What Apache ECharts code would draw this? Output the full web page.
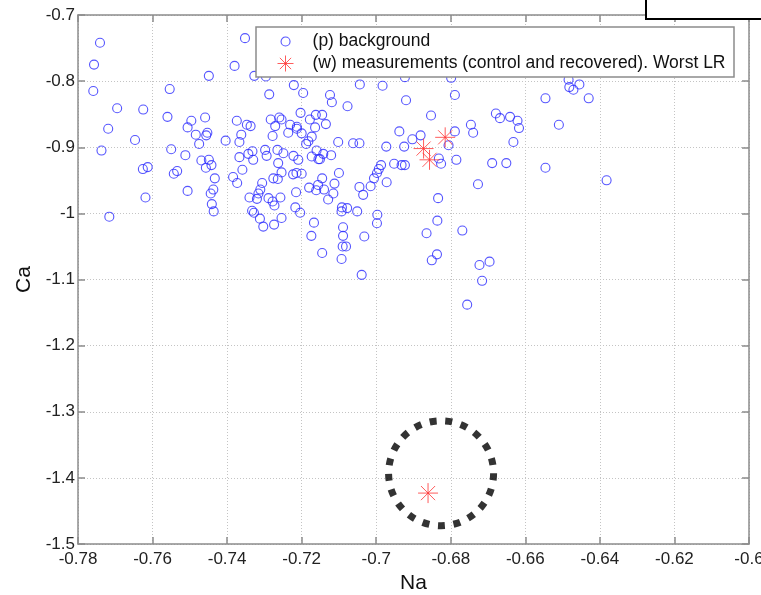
<!DOCTYPE html>
<html>
<head>
<meta charset="utf-8">
<script src="https://cdn.jsdelivr.net/npm/echarts@6/dist/echarts.min.js"></script>
<style>html,body{margin:0;padding:0;background:#fff;}#c{width:761px;height:595px;}</style>
</head>
<body>
<div id="c"></div>
<script>
// ---- data ----
var xTicks = ['-0.78','-0.76','-0.74','-0.72','-0.7','-0.68','-0.66','-0.64','-0.62','-0.6'];
var yTicks = ['-1.5','-1.4','-1.3','-1.2','-1.1','-1','-0.9','-0.8','-0.7'];
var xName = 'Na';
var yName = 'Ca';
var bgName = '(p) background';
var measName = '(w) measurements (control and recovered). Worst LR';

var bgNa = [-0.7741,-0.7757,-0.7759,-0.7737,-0.7716,-0.7719,-0.7695,-0.7647,-0.7625,-0.7626,
-0.7613,-0.7619,-0.7554,-0.7560,-0.7550,-0.7543,-0.7534,-0.7512,-0.7506,-0.7506,
-0.7496,-0.7484,-0.7475,-0.7469,-0.7459,-0.7456,-0.7453,-0.7449,-0.7449,-0.7442,
-0.7457,-0.7433,-0.7437,-0.7444,-0.7441,-0.7436,
-0.7404,-0.7384,-0.7373,-0.7380,-0.7374,-0.7362,-0.7367,-0.7367,-0.7359,-0.7352,
-0.7347,-0.7337,-0.7343,-0.7332,-0.7330,-0.7340,-0.7333,-0.7328,-0.7320,-0.7312,
-0.7327,-0.7303,-0.7316,-0.7311,-0.7306,-0.7298,-0.7296,-0.7287,-0.7294,-0.7289,
-0.7283,-0.7278,-0.7278,-0.7273,-0.7257,-0.7274,-0.7271,-0.7265,-0.7263,-0.7260,
-0.7254,-0.7276,-0.7264,-0.7254,-0.7254,-0.7249,-0.7236,-0.7231,-0.7222,-0.7223,
-0.7214,-0.7221,-0.7215,-0.7217,-0.7213,-0.7213,-0.7209,-0.7204,-0.7200,-0.7200,
-0.7196,-0.7203,-0.7188,-0.7182,-0.7180,-0.7178,-0.7173,-0.7173,-0.7174,-0.7167,
-0.7164,-0.7162,-0.7160,-0.7161,-0.7156,-0.7155,-0.7151,-0.7145,-0.7145,-0.7145,
-0.7142,-0.7140,-0.7135,-0.7129,-0.7124,-0.7119,-0.7121,-0.7115,-0.7112,-0.7102,
-0.7100,-0.7093,-0.7089,-0.7089,-0.7093,-0.7090,-0.7081,-0.7092,-0.7077,-0.7078,
-0.7062,-0.7051,-0.7045,-0.7045,-0.7044,-0.7039,-0.7035,-0.7032,-0.7015,-0.7006,
-0.6998,-0.6993,-0.6987,-0.6983,-0.6997,-0.6998,
-0.6923,-0.6920,-0.6799,-0.6789,-0.6853,-0.6938,-0.6903,-0.6881,-0.6973,-0.6925,
-0.6952,-0.6932,-0.6923,-0.6972,-0.6806,-0.6789,-0.6832,-0.6826,-0.6785,-0.6746,
-0.6740,-0.6727,-0.6834,-0.6836,-0.6865,-0.6769,-0.6837,-0.6851,-0.6723,-0.6696,
-0.6716,-0.6756,-0.6679,-0.6668,-0.6641,-0.6621,-0.6617,-0.6632,-0.6689,-0.6651,
-0.6546,-0.6510,-0.6546,-0.6484,-0.6482,-0.6471,-0.6455,-0.6430,-0.6382];

var bgCa = [-0.742,-0.775,-0.815,-0.905,-1.005,-0.872,-0.841,-0.889,-0.843,-0.933,
-0.930,-0.976,-0.812,-0.854,-0.903,-0.940,-0.936,-0.912,-0.966,-0.870,
-0.860,-0.881,-0.895,-0.920,-0.855,-0.882,-0.878,-0.792,-0.919,-0.927,
-0.931,-0.947,-0.964,-0.970,-0.986,-0.997,
-0.890,-0.945,-0.954,-0.777,-0.860,-0.881,-0.892,-0.915,-0.934,-0.735,
-0.866,-0.868,-0.910,-0.906,-0.919,-0.976,-0.996,-0.999,-0.978,-1.008,
-0.792,-1.020,-0.970,-0.964,-0.954,-0.904,-0.793,-0.820,-0.913,-0.977,
-0.858,-0.883,-0.982,-0.988,-0.976,-1.017,-0.868,-0.904,-0.924,-0.855,
-0.858,-0.947,-0.948,-0.938,-1.007,-0.909,-0.878,-0.866,-0.913,-0.941,
-0.939,-0.806,-0.968,-0.991,-0.869,-0.872,-0.919,-0.999,-0.879,-0.940,
-0.818,-0.848,-0.895,-0.891,-0.961,-0.858,-0.884,-0.914,-1.034,-1.014,
-0.870,-0.851,-0.905,-0.965,-0.957,-0.918,-0.918,-0.947,-1.060,-0.851,
-0.910,-0.964,-0.865,-0.979,-0.821,-0.832,-0.912,-0.970,-0.955,-0.892,
-0.939,-0.997,-1.021,-1.034,-1.069,-1.050,-1.050,-0.991,-0.838,-0.992,
-0.894,-0.997,-0.894,-0.960,-0.805,-1.093,-0.972,-1.035,-0.959,-0.947,
-0.939,-0.933,-0.927,-0.807,-1.002,-1.015,
-0.794,-0.829,-0.795,-0.821,-0.852,-0.876,-0.888,-0.882,-0.899,-0.899,
-0.925,-0.927,-0.927,-0.953,-0.897,-0.876,-0.917,-0.925,-0.919,-0.866,
-0.878,-0.956,-0.977,-1.011,-1.030,-1.026,-1.062,-1.071,-1.078,-1.073,
-1.102,-1.138,-0.849,-0.856,-0.854,-0.860,-0.871,-0.892,-0.924,-0.924,
-0.826,-0.866,-0.931,-0.798,-0.809,-0.813,-0.805,-0.826,-0.950];

var measNa = [-0.6815,-0.6873,-0.6857,-0.6861];
var measCa = [-0.885,-0.902,-0.919,-1.423];

var highlightNa = [-0.6826];
var highlightCa = [-1.393];

// ---- build ----
function zip(a, b){ var r=[]; for (var i=0;i<a.length;i++) r.push([a[i], b[i]]); return r; }
function nearestLabel(ticks, v){
  var best = ticks[0], bd = Infinity;
  ticks.forEach(function(t){ var d=Math.abs(parseFloat(t)-v); if(d<bd){bd=d;best=t;} });
  return best;
}
var FONT = '"Liberation Sans", Arial, Helvetica, sans-serif';
var STAR = 'path://M0,10L20,10M10,0L10,20M2.93,2.93L17.07,17.07M17.07,2.93L2.93,17.07';
var axisLineStyle = {color:'#8c8c8c', width:1.5};
var xMin = parseFloat(xTicks[0]), xMax = parseFloat(xTicks[xTicks.length-1]);
var yMin = parseFloat(yTicks[0]), yMax = parseFloat(yTicks[yTicks.length-1]);

var chart = echarts.init(document.getElementById('c'), null, {renderer:'canvas'});
chart.setOption({
  backgroundColor:'#fff',
  animation:false,
  textStyle:{fontFamily:FONT},
  grid:{left:78, top:15, width:671, height:529, containLabel:false, outerBoundsMode:'none'},
  xAxis:[{
    type:'value', min:xMin, max:xMax, interval:0.02, position:'bottom',
    name:xName, nameLocation:'middle', nameGap:27,
    nameTextStyle:{fontSize:21, color:'#111', fontFamily:FONT},
    axisLine:{show:true, onZero:false, lineStyle:axisLineStyle},
    axisTick:{show:true, inside:true, length:7, lineStyle:axisLineStyle},
    axisLabel:{show:true, margin:7, fontSize:17, color:'#222', fontFamily:FONT,
      formatter:function(v){ return nearestLabel(xTicks, v); }},
    splitLine:{show:true, lineStyle:{color:'#c4c4c4', width:1, type:[1,2]}}
  },{
    type:'value', min:xMin, max:xMax, interval:0.02, position:'top',
    axisLine:{show:true, onZero:false, lineStyle:axisLineStyle},
    axisTick:{show:true, inside:true, length:7, lineStyle:axisLineStyle},
    axisLabel:{show:false}, splitLine:{show:false}
  }],
  yAxis:[{
    type:'value', min:yMin, max:yMax, interval:0.1, position:'left',
    name:yName, nameLocation:'middle', nameGap:42, nameRotate:90,
    nameTextStyle:{fontSize:21, color:'#111', fontFamily:FONT},
    axisLine:{show:true, onZero:false, lineStyle:axisLineStyle},
    axisTick:{show:true, inside:true, length:7, lineStyle:axisLineStyle},
    axisLabel:{show:true, margin:3, fontSize:17, color:'#222', fontFamily:FONT,
      formatter:function(v){ return nearestLabel(yTicks, v); }},
    splitLine:{show:true, lineStyle:{color:'#c4c4c4', width:1, type:[1,2]}}
  },{
    type:'value', min:yMin, max:yMax, interval:0.1, position:'right',
    axisLine:{show:true, onZero:false, lineStyle:axisLineStyle},
    axisTick:{show:true, inside:true, length:7, lineStyle:axisLineStyle},
    axisLabel:{show:false}, splitLine:{show:false}
  }],
  legend:[{
    data:[bgName], left:280.5, top:32, padding:0, itemWidth:44, itemHeight:9,
    icon:'circle', selectedMode:false, z:5,
    itemStyle:{color:'rgba(0,0,0,0)', borderColor:'#2a2aff', borderWidth:1.1},
    textStyle:{fontSize:17.5, color:'#111', fontFamily:FONT, lineHeight:19}
  },{
    data:[measName], left:277, top:54, padding:0, itemWidth:44, itemHeight:16,
    icon:STAR, selectedMode:false, z:5,
    itemStyle:{color:'rgba(0,0,0,0)', borderColor:'#ff3333', borderWidth:1},
    textStyle:{fontSize:17.5, color:'#111', fontFamily:FONT, lineHeight:19}
  }],
  graphic:[
    {type:'rect', z:4, shape:{x:256, y:27, width:478, height:50},
     style:{fill:'#fff', stroke:'#8c8c8c', lineWidth:1.5}},
    {type:'rect', z:4, shape:{x:646, y:-10, width:130, height:29},
     style:{fill:'#fff', stroke:'#000', lineWidth:2}}
  ],
  series:[{
    name:bgName, type:'scatter', data:zip(bgNa, bgCa),
    symbol:'circle', symbolSize:9, silent:true,
    itemStyle:{color:'rgba(0,0,0,0)', borderColor:'#2a2aff', borderWidth:1.1}
  },{
    name:'highlight', type:'scatter', data:zip(highlightNa, highlightCa),
    symbol:'circle', symbolSize:105, silent:true,
    itemStyle:{color:'rgba(0,0,0,0)', borderColor:'#000', borderWidth:7, borderType:[7,8.7]}
  },{
    name:measName, type:'scatter', data:zip(measNa, measCa),
    symbol:STAR, symbolSize:20, silent:true, z:3,
    itemStyle:{color:'rgba(0,0,0,0)', borderColor:'#ff3333', borderWidth:1}
  }]
});
</script>
</body>
</html>
